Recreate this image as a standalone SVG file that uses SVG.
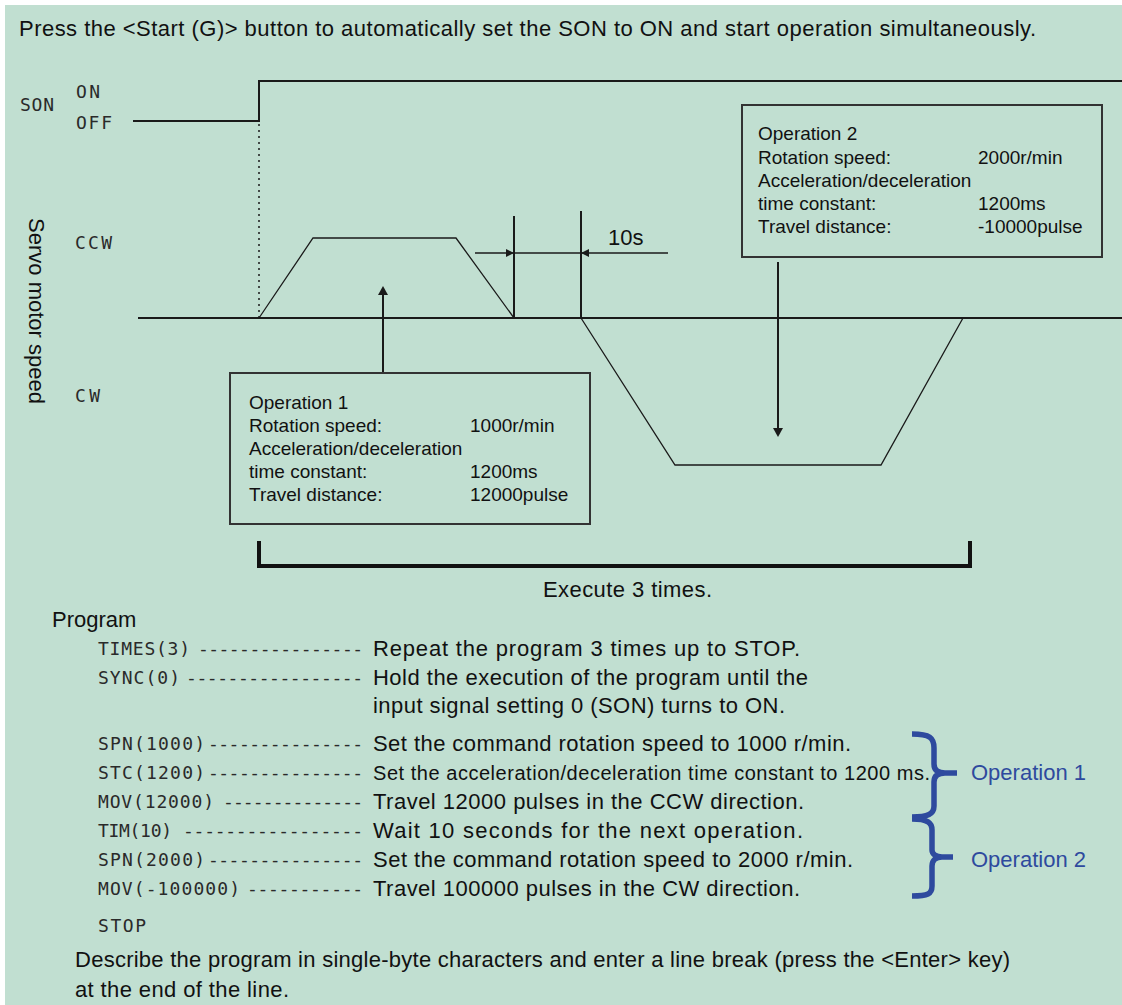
<svg xmlns="http://www.w3.org/2000/svg" width="1122" height="1005" viewBox="0 0 1122 1005">
<defs>
<style>
.t{font-family:"Liberation Sans",Arial,sans-serif;font-size:22px;fill:#111}
.b{font-family:"Liberation Sans",Arial,sans-serif;font-size:19px;fill:#111}
.c{font-family:"DejaVu Sans Mono","Liberation Mono",monospace;font-size:18px;fill:#2a2a2a}
.bl{font-family:"Liberation Sans",Arial,sans-serif;font-size:22px;fill:#2e4a9e}
.ln{stroke:#1a1a1a;stroke-width:2;fill:none}
.thin{stroke:#1a1a1a;stroke-width:1.3;fill:none}
.box{stroke:#333;stroke-width:2;fill:none}
.brace{stroke:#2e4a9e;stroke-width:5.5;fill:none;stroke-linejoin:round}
</style>
</defs>
<rect x="0" y="0" width="1122" height="1005" fill="#ffffff"/>
<rect x="5" y="5" width="1117" height="1000" fill="#c1dfd1"/>

<text class="t" x="19" y="36" textLength="1017">Press the &lt;Start (G)&gt; button to automatically set the SON to ON and start operation simultaneously.</text>

<g id="axis-labels">
<text class="c" x="20" y="111" textLength="34">SON</text>
<text class="c" x="76" y="98" textLength="24">ON</text>
<text class="c" x="76" y="129" textLength="36">OFF</text>
<text class="c" x="75" y="249" textLength="37">CCW</text>
<text class="c" x="75" y="402" textLength="25">CW</text>
<text class="t" transform="translate(29,311) rotate(90)" text-anchor="middle">Servo motor speed</text>
</g>

<g id="connectors">
<polyline class="ln" points="133,121 259,121 259,81 1122,81"/>
<line x1="259" y1="124" x2="259" y2="318" stroke="#1a1a1a" stroke-width="1.5" stroke-dasharray="2,4"/>
<line class="ln" x1="138" y1="318" x2="1122" y2="318"/>
<polyline class="thin" points="259,318 313,238 456,238 514,318"/>
<polyline class="thin" points="581,318 675,465 881,465 963,318"/>
<line class="ln" x1="514" y1="216" x2="514" y2="318"/>
<line class="ln" x1="581" y1="211" x2="581" y2="318"/>
<line x1="475" y1="253" x2="668" y2="253" stroke="#1a1a1a" stroke-width="1.6"/>
<polygon points="514,253 506,249 506,257" fill="#1a1a1a"/>
<polygon points="581,253 589,249 589,257" fill="#1a1a1a"/>
<line class="ln" x1="383" y1="373" x2="383" y2="292"/>
<polygon points="383,286 378,295 388,295" fill="#1a1a1a"/>
<line class="ln" x1="778" y1="262" x2="778" y2="430"/>
<polygon points="778,437 773,428 783,428" fill="#1a1a1a"/>
<path d="M259,541 V566 H970 V541" stroke="#111" stroke-width="4" fill="none"/>
</g>

<text class="t" x="608" y="245">10s</text>

<g id="op1">
<rect class="box" x="230" y="373" width="360" height="151"/>
<text class="b" x="249" y="409">Operation 1</text>
<text class="b" x="249" y="432">Rotation speed:</text>
<text class="b" x="470" y="432">1000r/min</text>
<text class="b" x="249" y="455">Acceleration/deceleration</text>
<text class="b" x="249" y="478">time constant:</text>
<text class="b" x="470" y="478">1200ms</text>
<text class="b" x="249" y="501">Travel distance:</text>
<text class="b" x="470" y="501">12000pulse</text>
</g>

<g id="op2">
<rect class="box" x="742" y="105" width="360" height="152"/>
<text class="b" x="758" y="140">Operation 2</text>
<text class="b" x="758" y="164">Rotation speed:</text>
<text class="b" x="978" y="164">2000r/min</text>
<text class="b" x="758" y="187">Acceleration/deceleration</text>
<text class="b" x="758" y="210">time constant:</text>
<text class="b" x="978" y="210">1200ms</text>
<text class="b" x="758" y="233">Travel distance:</text>
<text class="b" x="978" y="233">-10000pulse</text>
</g>

<text class="t" x="543" y="597" textLength="169">Execute 3 times.</text>

<g id="program">
<text class="t" x="52" y="627">Program</text>
<text class="c" x="98" y="655" textLength="92">TIMES(3)</text>
<text class="c" x="198" y="655" textLength="165">----------------</text>
<text class="t" x="373" y="656" textLength="427">Repeat the program 3 times up to STOP.</text>

<text class="c" x="98" y="684" textLength="82">SYNC(0)</text>
<text class="c" x="186" y="684" textLength="177">-----------------</text>
<text class="t" x="373" y="685" textLength="435">Hold the execution of the program until the</text>
<text class="t" x="373" y="713" textLength="412">input signal setting 0 (SON) turns to ON.</text>

<text class="c" x="98" y="750" textLength="107">SPN(1000)</text>
<text class="c" x="208" y="750" textLength="155">---------------</text>
<text class="t" x="373" y="751" textLength="478">Set the command rotation speed to 1000 r/min.</text>

<text class="c" x="98" y="779" textLength="107">STC(1200)</text>
<text class="c" x="208" y="779" textLength="155">---------------</text>
<text class="t" x="373" y="780" style="font-size:20px" textLength="557">Set the acceleration/deceleration time constant to 1200 ms.</text>

<text class="c" x="98" y="808" textLength="116">MOV(12000)</text>
<text class="c" x="223" y="808" textLength="140">--------------</text>
<text class="t" x="373" y="809" textLength="431">Travel 12000 pulses in the CCW direction.</text>

<text class="c" x="98" y="837" textLength="74">TIM(10)</text>
<text class="c" x="183" y="837" textLength="180">-----------------</text>
<text class="t" x="373" y="838" textLength="430">Wait 10 seconds for the next operation.</text>

<text class="c" x="98" y="866" textLength="107">SPN(2000)</text>
<text class="c" x="208" y="866" textLength="155">---------------</text>
<text class="t" x="373" y="867" textLength="480">Set the command rotation speed to 2000 r/min.</text>

<text class="c" x="98" y="895" textLength="142">MOV(-100000)</text>
<text class="c" x="247" y="895" textLength="116">-----------</text>
<text class="t" x="373" y="896" textLength="427">Travel 100000 pulses in the CW direction.</text>

<text class="c" x="98" y="932" textLength="48">STOP</text>

<text class="t" x="75" y="967" textLength="935">Describe the program in single-byte characters and enter a line break (press the &lt;Enter&gt; key)</text>
<text class="t" x="75" y="997" textLength="214">at the end of the line.</text>
</g>

<g id="braces">
<path class="brace" d="M912,734 C930,734 934,738 934,748 V764 C934,770 938,773 945,773 H957 M945,773 C938,773 934,776 934,782 V806 C934,814 928,817 912,817"/>
<path class="brace" d="M912,819 C928,819 932,823 932,830 V850 C932,854 936,857 942,857 H953 M942,857 C936,857 932,860 932,866 V886 C932,894 928,896 912,896"/>
<text class="bl" x="971" y="780">Operation 1</text>
<text class="bl" x="971" y="867">Operation 2</text>
</g>
</svg>
